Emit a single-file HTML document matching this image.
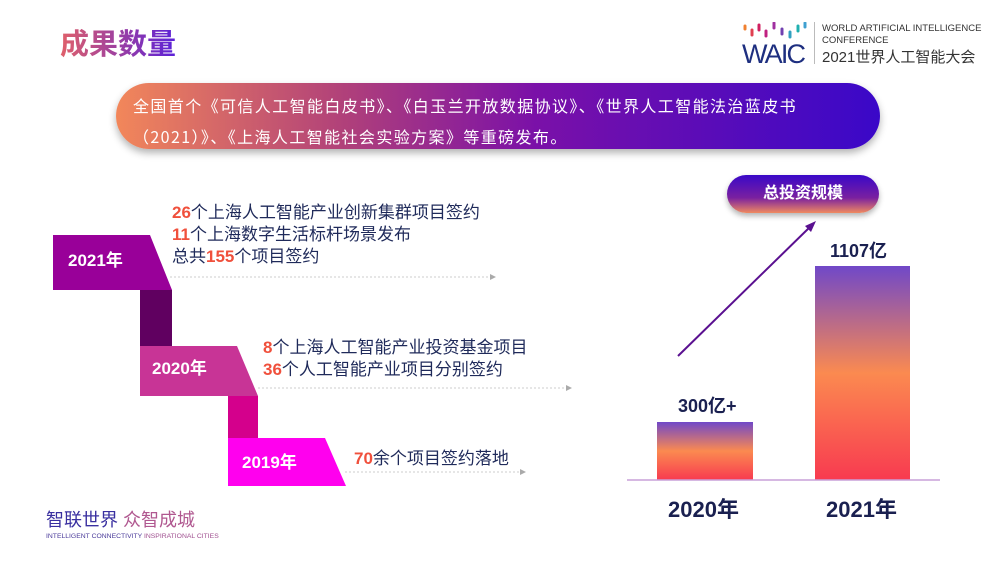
<!DOCTYPE html>
<html><head><meta charset="utf-8"><style>
body{margin:0;width:1001px;height:563px;background:#fff;position:relative;overflow:hidden;font-family:"Liberation Sans","Noto Sans CJK SC",sans-serif}
.a{position:absolute}
.t{font-size:17px;color:#1f2a5a;white-space:nowrap;line-height:22px}
.r{color:#f0503c;font-weight:bold}
.y{color:#fff;font-weight:bold;font-size:17px}
</style></head><body>
<div class="a" style="left:60px;top:21px;font-size:29px;font-weight:bold;background:linear-gradient(90deg,#e0606a,#5a20d8);-webkit-background-clip:text;background-clip:text;color:transparent">成果数量</div>
<svg class="a" style="left:742px;top:22px" width="70" height="44">
<g stroke-width="3" stroke-linecap="round">
<line x1="3" y1="4" x2="3" y2="7" stroke="#f08030"/><line x1="10" y1="8" x2="10" y2="13" stroke="#e04050"/>
<line x1="17" y1="3" x2="17" y2="8" stroke="#d02060"/><line x1="24" y1="9" x2="24" y2="14" stroke="#c02080"/>
<line x1="32" y1="1" x2="32" y2="6" stroke="#a030a0"/><line x1="40" y1="7" x2="40" y2="12" stroke="#7040b0"/>
<line x1="48" y1="10" x2="48" y2="15" stroke="#30a0c0"/><line x1="56" y1="4" x2="56" y2="9" stroke="#20b0b0"/>
<line x1="63" y1="1" x2="63" y2="5" stroke="#40a0d0"/></g>
<text x="0" y="41" font-size="27" fill="#1e2f80" font-family="Liberation Sans" textLength="64">WAIC</text></svg>
<div class="a" style="left:814px;top:22px;width:1px;height:42px;background:#bbb"></div>
<div class="a" style="left:822px;top:23px;font-size:9.5px;color:#333;line-height:12px">WORLD ARTIFICIAL INTELLIGENCE<br>CONFERENCE</div>
<div class="a" style="left:822px;top:46px;font-size:15px;color:#333">2021世界人工智能大会</div>
<div class="a" style="left:116px;top:83px;width:764px;height:66px;border-radius:33px;background:linear-gradient(90deg,#f2875a,#b0407a 30%,#7a10a8 55%,#3a08c8);box-shadow:0 4px 8px rgba(0,0,0,.3)"></div>
<div class="a" style="left:133px;top:90px;font-size:16px;color:#fff;line-height:31px;white-space:nowrap;font-family:'Noto Sans CJK SC',sans-serif;letter-spacing:1.4px">全国首个《可信人工智能白皮书》、《白玉兰开放数据协议》、《世界人工智能法治蓝皮书<br>（2021）》、《上海人工智能社会实验方案》等重磅发布。</div>
<svg class="a" style="left:0;top:0" width="600" height="500">
<polygon points="53,235 150,235 172,290 53,290" fill="#990099"/>
<rect x="140" y="290" width="32" height="56" fill="#600060"/>
<polygon points="140,346 237,346 258,396 140,396" fill="#c83496"/>
<rect x="228" y="396" width="30" height="42" fill="#d4008c"/>
<polygon points="228,438 325,438 346,486 228,486" fill="#ff00ee"/>
<g stroke="#ccc" stroke-dasharray="2,2" stroke-width="1"><line x1="170" y1="277" x2="490" y2="277"/><line x1="258" y1="388" x2="566" y2="388"/><line x1="345" y1="472" x2="520" y2="472"/></g>
<g fill="#aaa"><polygon points="490,274 496,277 490,280"/><polygon points="566,385 572,388 566,391"/><polygon points="520,469 526,472 520,475"/></g>
</svg>
<div class="a y" style="left:68px;top:246px">2021年</div>
<div class="a y" style="left:152px;top:354px">2020年</div>
<div class="a y" style="left:242px;top:448px">2019年</div>
<div class="a t" style="left:172px;top:202px"><span class="r">26</span>个上海人工智能产业创新集群项目签约<br><span class="r">11</span>个上海数字生活标杆场景发布<br>总共<span class="r">155</span>个项目签约</div>
<div class="a t" style="left:263px;top:337px"><span class="r">8</span>个上海人工智能产业投资基金项目<br><span class="r">36</span>个人工智能产业项目分别签约</div>
<div class="a t" style="left:354px;top:448px"><span class="r">70</span>余个项目签约落地</div>
<div class="a" style="left:727px;top:175px;width:152px;height:38px;border-radius:19px;background:linear-gradient(180deg,#3a08c8,#7a20a0 60%,#f08a60);box-shadow:0 3px 6px rgba(0,0,0,.3);color:#fff;font-weight:bold;font-size:16px;text-align:center;line-height:38px">总投资规模</div>
<svg class="a" style="left:600px;top:200px" width="360" height="300">
<defs><linearGradient id="g" x1="0" y1="0" x2="0" y2="1"><stop offset="0" stop-color="#7048c8"/><stop offset=".5" stop-color="#fb8a50"/><stop offset="1" stop-color="#f83a50"/></linearGradient></defs>
<rect x="57" y="222" width="96" height="58" fill="url(#g)"/>
<rect x="215" y="66" width="95" height="214" fill="url(#g)"/>
<line x1="27" y1="280" x2="340" y2="280" stroke="#c8a0d8" stroke-width="1.5"/>
<line x1="78" y1="156" x2="212" y2="25" stroke="#5a1090" stroke-width="2"/>
<polygon points="216,21 205,26 211,32" fill="#5a1090"/>
</svg>
<div class="a" style="left:678px;top:392px;font-size:18px;font-weight:bold;color:#1a2050">300亿+</div>
<div class="a" style="left:830px;top:237px;font-size:18px;font-weight:bold;color:#1a2050">1107亿</div>
<div class="a" style="left:668px;top:492px;font-size:22px;font-weight:bold;color:#1a2050">2020年</div>
<div class="a" style="left:826px;top:492px;font-size:22px;font-weight:bold;color:#1a2050">2021年</div>
<div class="a" style="left:46px;top:506px;font-size:18px;white-space:nowrap"><span style="color:#3a30a0">智联世界</span> <span style="color:#b05890">众智成城</span></div>
<div class="a" style="left:46px;top:533px;font-size:6.8px;color:#4a3a9a;white-space:nowrap">INTELLIGENT CONNECTIVITY <span style="color:#a05090">INSPIRATIONAL CITIES</span></div>
</body></html>
